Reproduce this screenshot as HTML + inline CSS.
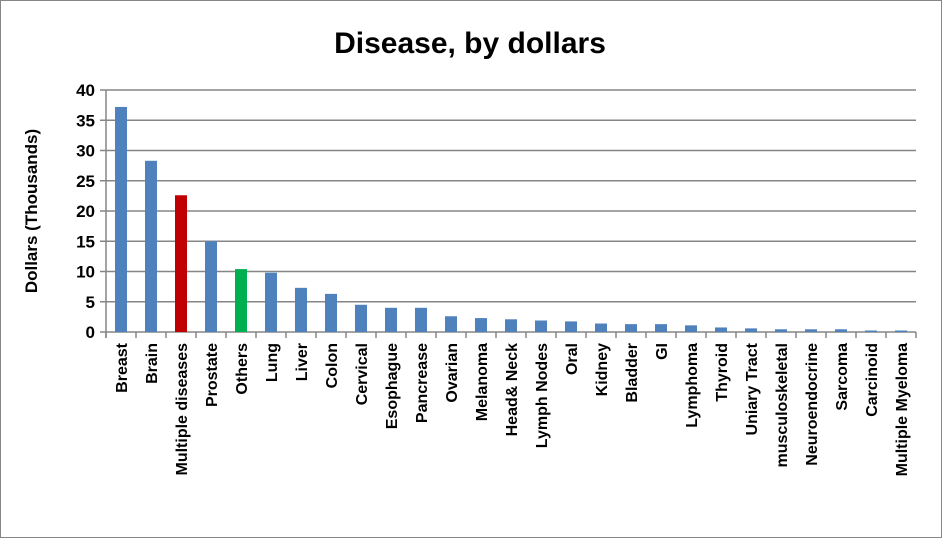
<!DOCTYPE html>
<html><head><meta charset="utf-8"><style>
body{margin:0;background:#fff}
svg{display:block;font-family:"Liberation Sans",Arial,sans-serif}
</style></head><body>
<svg id="chart" width="942" height="538">
<rect x="0.5" y="0.5" width="941" height="537" fill="#fff" stroke="#868686"/>
<text x="470" y="53" text-anchor="middle" font-size="30" font-weight="bold">Disease, by dollars</text>
<text transform="translate(37,211) rotate(-90)" text-anchor="middle" font-size="17" font-weight="bold">Dollars (Thousands)</text>
<g id="grid"></g><g id="bars"></g><g id="axes"></g>
</svg>
<script>
const categories=["Breast","Brain","Multiple diseases","Prostate","Others","Lung","Liver","Colon","Cervical","Esophague","Pancrease","Ovarian","Melanoma","Head& Neck","Lymph Nodes","Oral","Kidney","Bladder","GI","Lymphoma","Thyroid","Uniary Tract","musculoskeletal","Neuroendocrine","Sarcoma","Carcinoid","Multiple Myeloma"];
const values=[37.2,28.3,22.6,15.0,10.4,9.8,7.3,6.3,4.5,4.0,4.0,2.6,2.3,2.1,1.9,1.75,1.4,1.3,1.3,1.1,0.75,0.6,0.45,0.45,0.45,0.25,0.25];
const colors=["#4f81bd","#4f81bd","#c00000","#4f81bd","#00b050"];
const yTicks=[0,5,10,15,20,25,30,35,40];
const NS="http://www.w3.org/2000/svg";
const x0=106,x1=916,y0=332,yTop=90,yMax=40;
const bw=(x1-x0)/categories.length;
const y=v=>y0-(v/yMax)*(y0-yTop);
const xc=i=>x0+bw*(i+0.5);
function mk(t,a,p){const e=document.createElementNS(NS,t);for(const k in a)e.setAttribute(k,a[k]);p.appendChild(e);return e;}
const grid=document.getElementById('grid'),bars=document.getElementById('bars'),axes=document.getElementById('axes');
yTicks.forEach(t=>{
  const l=mk('line',{x1:x0-6,x2:x1,y1:y(t),y2:y(t),stroke:'#868686','stroke-width':1.5},grid);
  
  
  const tx=mk('text',{x:x0-11,y:y(t)+6,'text-anchor':'end','font-size':17,'font-weight':'bold'},axes);
  tx.textContent=t;
  
  
});
values.forEach((v,i)=>{
  const r=mk('rect',{x:xc(i)-6,y:y(v),width:12,height:y0-y(v),fill:colors[i]||'#4f81bd'},bars);
  
  
  const tx=mk('text',{transform:`translate(${xc(i)+6},${y0+11}) rotate(-90)`,'text-anchor':'end','font-size':16,'font-weight':'bold'},axes);
  tx.textContent=categories[i];
  
  
});
for(let i=0;i<=categories.length;i++){
  const t=mk('line',{x1:x0+bw*i,x2:x0+bw*i,y1:y0,y2:y0+6,stroke:'#868686','stroke-width':1.5},axes);
  
  
}
const ya=mk('line',{x1:x0,x2:x0,y1:yTop,y2:y0+6,stroke:'#868686','stroke-width':1.5},axes);


</script>
</body></html>
